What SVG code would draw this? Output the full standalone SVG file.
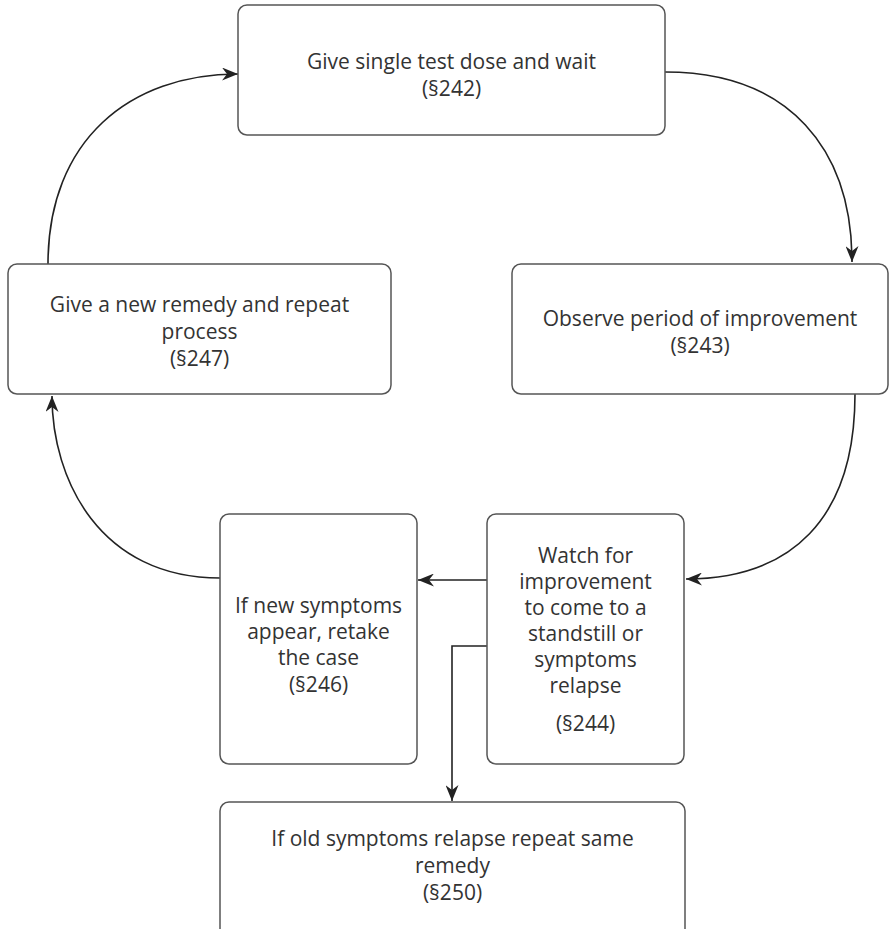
<svg xmlns="http://www.w3.org/2000/svg" width="894" height="929" viewBox="0 0 894 929">
<style>
.box{fill:#fff;stroke:#555;stroke-width:1.5}
.t{font-family:"Open Sans","Noto Sans",sans-serif;font-size:21px;fill:#333;text-anchor:middle}
.c{fill:none;stroke:#222;stroke-width:1.6}
</style>
<defs>
<marker id="ah" markerUnits="userSpaceOnUse" markerWidth="17" markerHeight="13" refX="16" refY="6.5" orient="auto">
<path d="M0,0 L16,6.5 L0,13 L5,6.5 z" fill="#222"/>
</marker>
</defs>
<rect width="894" height="929" fill="#fff"/>
<g id="connectors">
<path class="c" d="M665,72 C790,72 852,150 852,262" marker-end="url(#ah)"/>
<path class="c" d="M855,394 C855,520 790,579 686,579" marker-end="url(#ah)"/>
<path class="c" d="M487,580 L418,580" marker-end="url(#ah)"/>
<path class="c" d="M487,646 L452,646 L452,801" marker-end="url(#ah)"/>
<path class="c" d="M220,578 C100,578 52,480 52,396" marker-end="url(#ah)"/>
<path class="c" d="M48,264 C48,140 130,74 238,74" marker-end="url(#ah)"/>
</g>
<g id="n242">
<rect class="box" x="238" y="5" width="427" height="130" rx="9"/>
<text class="t" x="451.5" y="69">Give single test dose and wait</text>
<text class="t" x="451.5" y="96">(§242)</text>
</g>
<g id="n243">
<rect class="box" x="512" y="264" width="376" height="130" rx="9"/>
<text class="t" x="700" y="326">Observe period of improvement</text>
<text class="t" x="700" y="353">(§243)</text>
</g>
<g id="n247">
<rect class="box" x="8" y="264" width="383" height="130" rx="9"/>
<text class="t" x="199.5" y="312">Give a new remedy and repeat</text>
<text class="t" x="199.5" y="339">process</text>
<text class="t" x="199.5" y="366">(§247)</text>
</g>
<g id="n246">
<rect class="box" x="220" y="514" width="197" height="250" rx="9"/>
<text class="t" x="318.5" y="613">If new symptoms</text>
<text class="t" x="318.5" y="639">appear, retake</text>
<text class="t" x="318.5" y="665">the case</text>
<text class="t" x="318.5" y="692">(§246)</text>
</g>
<g id="n244">
<rect class="box" x="487" y="514" width="197" height="250" rx="9"/>
<text class="t" x="585.5" y="563">Watch for</text>
<text class="t" x="585.5" y="589">improvement</text>
<text class="t" x="585.5" y="615">to come to a</text>
<text class="t" x="585.5" y="641">standstill or</text>
<text class="t" x="585.5" y="667">symptoms</text>
<text class="t" x="585.5" y="693">relapse</text>
<text class="t" x="585.5" y="731">(§244)</text>
</g>
<g id="n250">
<rect class="box" x="220" y="802" width="465" height="150" rx="9"/>
<text class="t" x="452.5" y="846">If old symptoms relapse repeat same</text>
<text class="t" x="452.5" y="873">remedy</text>
<text class="t" x="452.5" y="900">(§250)</text>
</g>
</svg>
